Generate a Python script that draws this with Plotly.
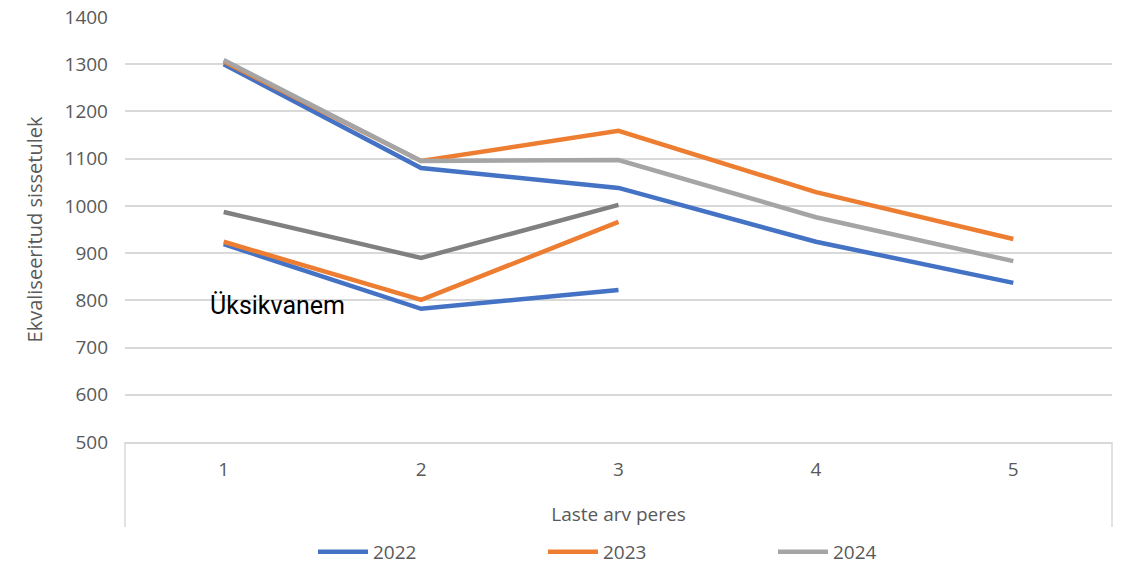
import plotly.graph_objects as go

children = [1, 2, 3, 4, 5]
years = ["2022", "2023", "2024"]
total_2022 = [1300, 1080, 1038, 924, 837]
total_2023 = [1306, 1095, 1159, 1029, 930]
total_2024 = [1309, 1095, 1097, 976, 883]
single_children = [1, 2, 3]
single_2022 = [919, 782, 822]
single_2023 = [924, 801, 966]
single_2024 = [987, 890, 1002]
y_ticks = [500, 600, 700, 800, 900, 1000, 1100, 1200, 1300, 1400]
annotation_text = "Üksikvanem"

BLUE = "#4472C4"
ORANGE = "#ED7D31"
GREY = "#A5A5A5"
DARKGREY = "#808080"
GRID = "#D9D9D9"
TXT = "#595959"
LW = 4.5

fig = go.Figure()
# single-parent lines
for vals, col in [(single_2022, BLUE), (single_2023, ORANGE), (single_2024, DARKGREY)]:
    fig.add_trace(go.Scatter(x=single_children, y=vals, mode="lines",
                             line=dict(color=col, width=LW), showlegend=False,
                             hoverinfo="skip"))
# main lines
for name, vals, col in [(years[0], total_2022, BLUE), (years[1], total_2023, ORANGE),
                        (years[2], total_2024, GREY)]:
    fig.add_trace(go.Scatter(x=children, y=vals, mode="lines", name=name,
                             line=dict(color=col, width=LW)))

fig.add_annotation(x=1.27, y=790, xref="x", yref="y", text=annotation_text,
                   showarrow=False, font=dict(family="Roboto", size=25, color="#000000"))

# category-axis frame
fig.add_shape(type="line", xref="paper", yref="paper", x0=0, x1=0, y0=0, y1=-0.2,
              line=dict(color=GRID, width=1.5))
fig.add_shape(type="line", xref="paper", yref="paper", x0=1, x1=1, y0=0, y1=-0.2,
              line=dict(color=GRID, width=1.5))

# page body has an 8px margin, so the figure is shifted by 8px
fig.update_layout(
    width=1116, height=557,
    margin=dict(l=117, r=12, t=9, b=123, autoexpand=False),
    paper_bgcolor="white", plot_bgcolor="white",
    font=dict(family="Open Sans", color=TXT),
    xaxis=dict(range=[0.5, 5.5], tickvals=children, ticktext=[str(c) for c in children],
               showgrid=False, zeroline=False, showline=True, linecolor=GRID, linewidth=1.5,
               ticks="", ticklabelstandoff=9, tickfont=dict(size=19, color=TXT),
               automargin=False,
               title=dict(text="Laste arv peres", font=dict(size=19, color=TXT),
                          standoff=27)),
    yaxis=dict(range=[500, 1400.01], tickvals=y_ticks, showgrid=True, gridcolor=GRID,
               gridwidth=1.5, zeroline=False, showline=False, ticks="",
               ticklabelstandoff=16, tickfont=dict(size=19, color=TXT),
               ticklabeloverflow="allow", automargin=False,
               title=dict(text="Ekvaliseeritud sissetulek", font=dict(size=20, color=TXT),
                          standoff=16)),
    legend=dict(orientation="h", x=0.54, xanchor="center", yref="container",
                y=0.0233, yanchor="middle",
                font=dict(size=19, color=TXT), entrywidth=165, itemwidth=50),
    showlegend=True,
)

fig.write_html("out.html")
